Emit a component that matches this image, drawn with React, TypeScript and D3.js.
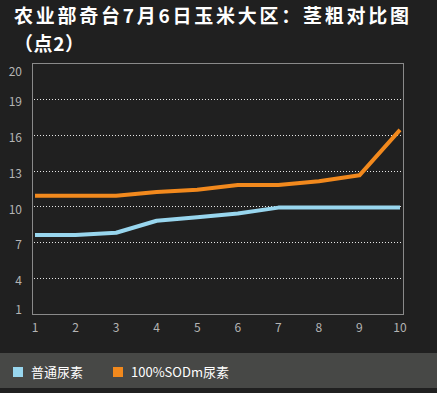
import React, { useEffect, useRef } from 'react';
import * as d3 from 'd3';

const titleLines = ['农业部奇台7月6日玉米大区：茎粗对比图', '（点2）'];
const days = [1, 2, 3, 4, 5, 6, 7, 8, 9, 10];
const normalUrea = [7.6, 7.6, 7.8, 8.8, 9.1, 9.4, 9.9, 9.9, 9.9, 9.9];
const sodUrea = [10.9, 10.9, 10.9, 11.2, 11.4, 11.8, 11.8, 12.1, 12.6, 16.4];
const yTicks = [1, 4, 7, 10, 13, 16, 19];
const yTopLabel = '20';
const seriesNames = ['普通尿素', '100%SODm尿素'];
const seriesColors = ['#98d6ee', '#f2891d'];

const W = 437;
const H = 393;

const App: React.FC = () => {
  const svgRef = useRef<SVGSVGElement>(null);

  useEffect(() => {
    if (!svgRef.current) return;
    const svg = d3.select(svgRef.current);
    svg.selectAll('*').remove();

    const font = '"Noto Sans CJK SC", "Noto Sans", sans-serif';
    const plot = { left: 32, right: 403, top: 63, bottom: 314 };

    svg.append('rect').attr('width', W).attr('height', H).attr('fill', '#202020');

    // title
    svg.append('g')
      .selectAll('text')
      .data(titleLines)
      .enter()
      .append('text')
      .attr('x', 14)
      .attr('y', (_, i) => 23 + i * 28)
      .attr('fill', '#ffffff')
      .attr('font-family', font)
      .attr('font-weight', 'bold')
      .attr('font-size', 19)
      .attr('textLength', (_, i) => (i === 0 ? 395 : 70) as any)
      .text(d => d);

    const x = d3.scaleLinear().domain([1, 10]).range([35, 400]);
    const y = d3.scaleLinear().domain([1, 22]).range([plot.bottom, plot.top]);

    // grid
    svg.append('g')
      .selectAll('line')
      .data(yTicks.filter(t => t > 1))
      .enter()
      .append('line')
      .attr('x1', plot.left + 2)
      .attr('x2', plot.right - 1)
      .attr('y1', d => Math.round(y(d)) + 0.5)
      .attr('y2', d => Math.round(y(d)) + 0.5)
      .attr('stroke', '#e8e8e8')
      .attr('stroke-width', 1)
      .attr('stroke-dasharray', '1,2');

    // frame
    svg.append('rect')
      .attr('x', plot.left + 0.5)
      .attr('y', plot.top + 0.5)
      .attr('width', plot.right - plot.left)
      .attr('height', plot.bottom - plot.top)
      .attr('fill', 'none')
      .attr('stroke', '#8a8a8a');

    // y labels
    const yl = svg.append('g')
      .attr('font-family', font)
      .attr('font-size', 12)
      .attr('fill', '#b4b4b4')
      .attr('text-anchor', 'end');
    yl.selectAll('text')
      .data(yTicks)
      .enter()
      .append('text')
      .attr('x', 22)
      .attr('y', d => (d === 1 ? y(d) - 4 : y(d) + 3))
      .attr('dy', '0.35em')
      .text(d => d);
    yl.append('text')
      .attr('x', 22)
      .attr('y', y(22) + 9)
      .attr('dy', '0.35em')
      .text(yTopLabel);

    // x labels
    svg.append('g')
      .attr('font-family', font)
      .attr('font-size', 12)
      .attr('fill', '#b4b4b4')
      .attr('text-anchor', 'middle')
      .selectAll('text')
      .data(days)
      .enter()
      .append('text')
      .attr('x', d => x(d))
      .attr('y', 328)
      .attr('dy', '0.35em')
      .text(d => d);

    // lines
    const line = d3.line<number>()
      .x((_, i) => x(days[i]))
      .y(d => y(d));

    [normalUrea, sodUrea].forEach((s, k) => {
      svg.append('path')
        .datum(s)
        .attr('fill', 'none')
        .attr('stroke', seriesColors[k])
        .attr('stroke-width', 4)
        .attr('stroke-linejoin', 'round')
        .attr('d', line);
    });

    // legend band
    svg.append('rect')
      .attr('x', 0)
      .attr('y', 353)
      .attr('width', W)
      .attr('height', 35)
      .attr('fill', '#474846');

    const lg = svg.append('g')
      .selectAll('g')
      .data(seriesNames)
      .enter()
      .append('g')
      .attr('transform', (_, i) => `translate(${13 + i * 100},367)`);
    lg.append('rect')
      .attr('width', 10)
      .attr('height', 10)
      .attr('fill', (_, i) => seriesColors[i]);
    lg.append('text')
      .attr('x', 18)
      .attr('y', 5)
      .attr('dy', '0.35em')
      .attr('font-family', font)
      .attr('font-size', 13)
      .attr('fill', '#ffffff')
      .text(d => d);
  }, []);

  return <svg ref={svgRef} width={W} height={H} style={{ position: 'absolute', left: 0, top: 0 }} />;
};

export default App;
